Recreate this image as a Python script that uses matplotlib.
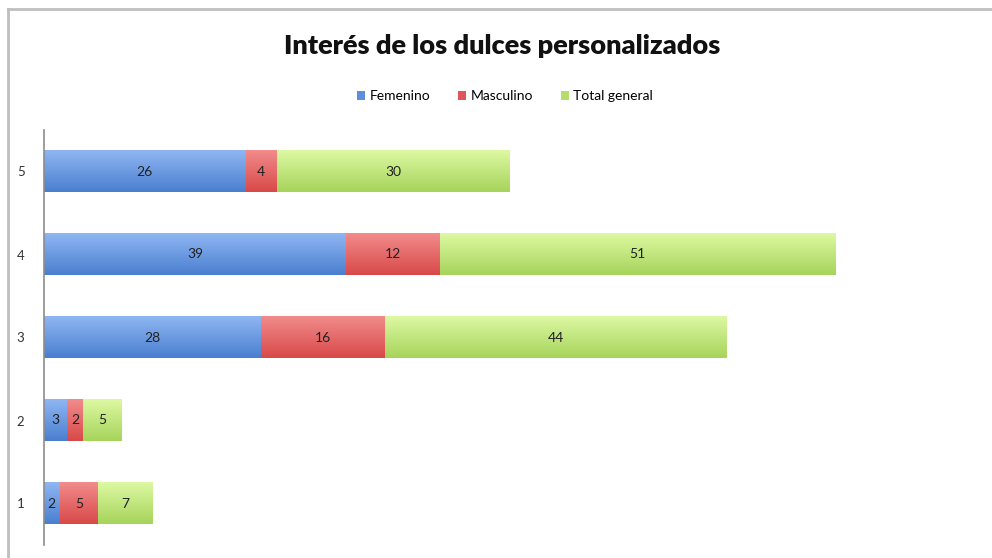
import numpy as np
import matplotlib.pyplot as plt
from matplotlib.lines import Line2D
from matplotlib.colors import LinearSegmentedColormap

# datos
categorias = ["1", "2", "3", "4", "5"]
femenino = [2, 3, 28, 39, 26]
masculino = [5, 2, 16, 12, 4]
total_general = [7, 5, 44, 51, 30]

plt.rcParams['font.family'] = ['Lato', 'DejaVu Sans']

W, H = 992, 558
fig = plt.figure(figsize=(W / 100, H / 100), dpi=100)

# eje: x de 44 px al borde derecho, y de 130 a 545 px
ax = fig.add_axes([44 / W, 1 - 545 / H, (W - 44) / W, (545 - 130) / H])

y = list(range(1, len(categorias) + 1))
# (claro arriba, oscuro abajo, color de leyenda)
gradientes = [("#8FB6F3", "#4A7FCF", "#5B8EDB"),
              ("#F28B8B", "#D84949", "#E05656"),
              ("#DDF8A2", "#A6D45B", "#B3DE6B")]
series = [("Femenino", femenino), ("Masculino", masculino), ("Total general", total_general)]

grad = np.linspace(0, 1, 64).reshape(-1, 1)
izq = [0] * len(y)
for (nombre, vals), (c_top, c_bot, c_leg) in zip(series, gradientes):
    cmap = LinearSegmentedColormap.from_list(nombre, [c_bot, c_top])
    barras = ax.barh(y, vals, left=izq, height=0.5, color=c_leg, label=nombre)
    for b, v in zip(barras, vals):
        x0, y0 = b.get_x(), b.get_y()
        ax.imshow(grad, extent=[x0, x0 + b.get_width(), y0, y0 + b.get_height()],
                  aspect="auto", cmap=cmap, origin="lower", zorder=2)
        ax.text(x0 + b.get_width() / 2, y0 + b.get_height() / 2, str(v),
                ha="center", va="center", fontsize=10, color="#222222", zorder=3)
    izq = [a + b for a, b in zip(izq, vals)]

ax.set_xlim(0, (W - 44) / 7.755)
ax.set_ylim(0.5, 5.5)
ax.set_yticks(y)
ax.set_yticklabels(categorias, fontsize=9.5, color="#333333")
ax.tick_params(axis="y", length=0, pad=14)
ax.set_xticks([])
for s in ["top", "right", "bottom"]:
    ax.spines[s].set_visible(False)
ax.spines["left"].set_color("#8C8C8C")
ax.spines["left"].set_linewidth(1.2)
ax.spines["left"].set_zorder(4)

fig.text(502 / W, 1 - 46 / H, "Interés de los dulces personalizados",
         ha="center", va="center", fontsize=19.5, fontweight="heavy", color="#111111")

fig.legend(loc="center", bbox_to_anchor=(505 / W, 1 - 96 / H), ncol=3, frameon=False,
           fontsize=10, handlelength=0.6, handleheight=0.6, handletextpad=0.3,
           columnspacing=2.0)

# marco gris del gráfico
gris = "#BFBFBF"
fig.add_artist(Line2D([8 / W, 1], [1 - 9 / H, 1 - 9 / H], color=gris, lw=2, transform=fig.transFigure))
fig.add_artist(Line2D([8 / W, 8 / W], [0, 1 - 9 / H], color=gris, lw=2, transform=fig.transFigure))

fig.savefig("out.png", dpi=100)
